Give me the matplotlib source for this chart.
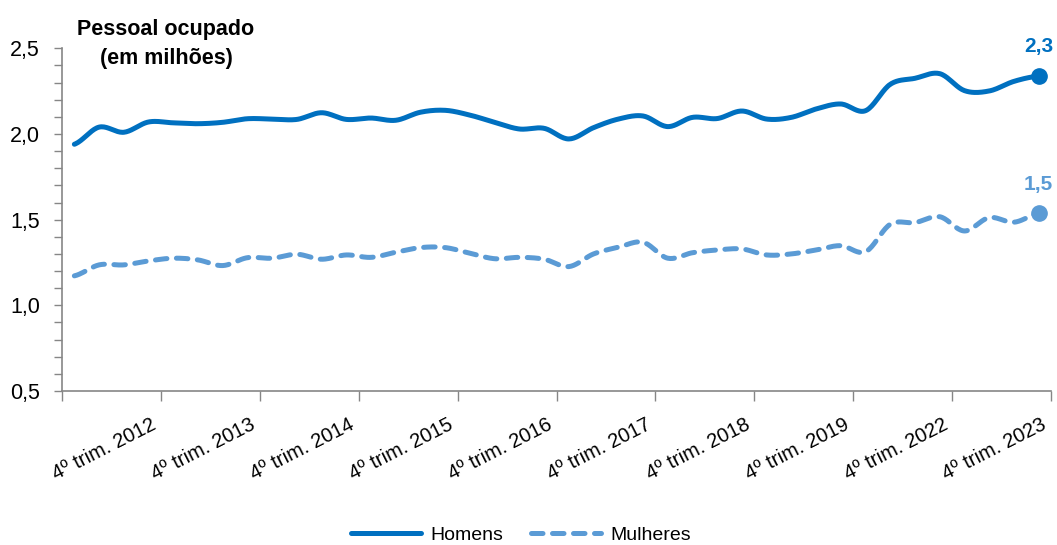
import matplotlib
matplotlib.use("Agg")
import matplotlib.pyplot as plt
import matplotlib.transforms as mtransforms
import numpy as np

plt.rcParams['font.family'] = ['Liberation Sans', 'DejaVu Sans']

# rótulos do eixo (um a cada 4 trimestres)
rotulos = ["4º trim. 2012", "4º trim. 2013", "4º trim. 2014", "4º trim. 2015",
           "4º trim. 2016", "4º trim. 2017", "4º trim. 2018", "4º trim. 2019",
           "4º trim. 2022", "4º trim. 2023"]

# pessoal ocupado, milhões (40 trimestres)
homens = [1.94, 2.04, 2.01, 2.07, 2.065, 2.06, 2.068, 2.089, 2.087, 2.085,
          2.124, 2.085, 2.093, 2.08, 2.127, 2.138, 2.11, 2.068, 2.029, 2.033,
          1.971, 2.037, 2.087, 2.105, 2.043, 2.097, 2.09, 2.134, 2.087, 2.097,
          2.146, 2.175, 2.136, 2.29, 2.325, 2.352, 2.253, 2.251, 2.307, 2.338]
mulheres = [1.172, 1.236, 1.236, 1.259, 1.275, 1.265, 1.232, 1.278, 1.275, 1.298,
            1.269, 1.294, 1.28, 1.31, 1.337, 1.337, 1.304, 1.272, 1.28, 1.269,
            1.226, 1.30, 1.339, 1.368, 1.275, 1.307, 1.323, 1.329, 1.294, 1.30,
            1.323, 1.348, 1.313, 1.473, 1.483, 1.517, 1.434, 1.512, 1.485, 1.537]

AZUL = '#0070C0'
AZUL_CLARO = '#5B9BD5'
CINZA = '#868686'


def suavizar(y, passos=20):
    # curva suave tipo Catmull-Rom (como a opção "linha suavizada" do Excel)
    y = np.asarray(y, float)
    p = np.concatenate(([y[0]], y, [y[-1]]))
    t = np.linspace(0, 1, passos, endpoint=False)
    xs, ys = [], []
    for i in range(len(y) - 1):
        p0, p1, p2, p3 = p[i], p[i + 1], p[i + 2], p[i + 3]
        yy = 0.5 * (2 * p1 + (-p0 + p2) * t + (2 * p0 - 5 * p1 + 4 * p2 - p3) * t ** 2
                    + (-p0 + 3 * p1 - 3 * p2 + p3) * t ** 3)
        xs.append(i + t)
        ys.append(yy)
    xs.append([len(y) - 1])
    ys.append([y[-1]])
    return np.concatenate(xs), np.concatenate(ys)


fig = plt.figure(figsize=(10.57, 5.45), dpi=100)
ax = fig.add_axes([62 / 1057, 1 - 391 / 545, (1051 - 62) / 1057, (391 - 48.3) / 545])

x = np.arange(len(homens))
xh, yh = suavizar(homens)
xm, ym = suavizar(mulheres)

lh, = ax.plot(xh, yh, color=AZUL, lw=3.6, solid_capstyle='round', label='Homens')
lm, = ax.plot(xm, ym, color=AZUL_CLARO, lw=3.6, dash_capstyle='round',
              label='Mulheres')
lm.set_dashes((2.3, 1.9))

ax.plot(x[-1], homens[-1], 'o', ms=11, color=AZUL, clip_on=False, zorder=5)
ax.plot(x[-1], mulheres[-1], 'o', ms=11, color=AZUL_CLARO, clip_on=False, zorder=5)

for serie, cor in [(homens, AZUL), (mulheres, AZUL_CLARO)]:
    ax.annotate(f"{serie[-1]:.1f}".replace('.', ','), xy=(x[-1], serie[-1]),
                xytext=(0, 17), textcoords='offset points', ha='center',
                va='baseline', fontsize=15, fontweight='bold', color=cor,
                annotation_clip=False)

ax.set_xlim(-0.5, len(homens) - 0.5)
ax.set_ylim(0.5, 2.5)

ax.set_xticks(np.arange(-0.5, len(homens), 4))
ax.set_xticklabels([""] + rotulos, rotation=27, ha='right', va='top',
                   rotation_mode='anchor', fontsize=14.5)
ax.set_yticks(np.arange(0.5, 2.51, 0.5))
ax.set_yticklabels([f"{v:.1f}".replace('.', ',') for v in np.arange(0.5, 2.51, 0.5)],
                   fontsize=15.5)
ax.set_yticks(np.arange(0.5, 2.51, 0.1), minor=True)

ax.tick_params(axis='y', which='both', length=6, width=1, color=CINZA, pad=10)
ax.tick_params(axis='x', which='major', length=7, width=1, color=CINZA, pad=10)

# desloca os rótulos do eixo x um pouco para a esquerda
desloc = mtransforms.ScaledTranslation(-10 / 100, 0, fig.dpi_scale_trans)
for lab in ax.get_xticklabels():
    lab.set_transform(lab.get_transform() + desloc)

for s in ['top', 'right']:
    ax.spines[s].set_visible(False)
for s in ['left', 'bottom']:
    ax.spines[s].set_color(CINZA)
    ax.spines[s].set_linewidth(1.2)

fig.text(166 / 1057, 1 - 35 / 545, "Pessoal ocupado", ha='center', va='baseline',
         fontsize=15.5, fontweight='bold')
fig.text(166 / 1057, 1 - 64 / 545, "(em milhões)", ha='center', va='baseline',
         fontsize=15.5, fontweight='bold')

fig.legend(handles=[lh, lm], loc='center', bbox_to_anchor=(521 / 1057, 1 - 535 / 545),
           ncol=2, frameon=False, fontsize=14, handlelength=3.6, handletextpad=0.5,
           columnspacing=1.4)

fig.savefig("out.png", dpi=100)
